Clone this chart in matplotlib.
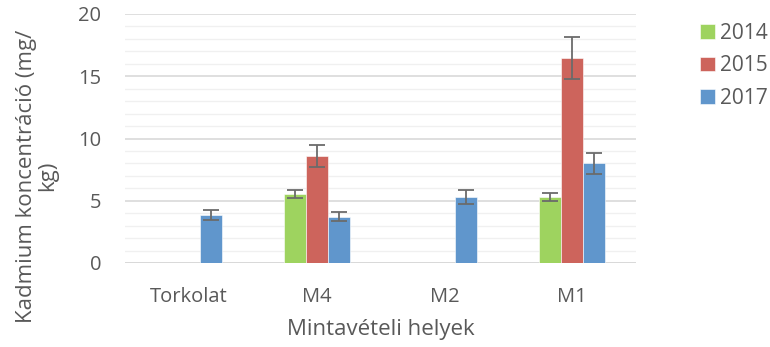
import numpy as np
import matplotlib
matplotlib.use("Agg")
import matplotlib.pyplot as plt
from matplotlib.ticker import MultipleLocator

plt.rcParams['font.family'] = ['Open Sans', 'DejaVu Sans']

sites = ["Torkolat", "M4", "M2", "M1"]
years = ["2014", "2015", "2017"]
vals_2014 = [np.nan, 5.55, np.nan, 5.33]
vals_2015 = [np.nan, 8.6, np.nan, 16.45]
vals_2017 = [3.87, 3.72, 5.27, 8.0]
err_2014 = [np.nan, 0.33, np.nan, 0.32]
err_2015 = [np.nan, 0.91, np.nan, 1.67]
err_2017 = [0.39, 0.37, 0.56, 0.83]
yticks = [0, 5, 10, 15, 20]

colors = ["#9ed35f", "#cd645c", "#6096cc"]
text_col = "#595959"

fig = plt.figure(figsize=(7.70, 3.47), dpi=100)
ax = fig.add_axes([125/770, 1-263/347, (636-125)/770, (263-14)/347])

x = np.arange(len(sites))
w = 0.172
series = [(vals_2014, err_2014), (vals_2015, err_2015), (vals_2017, err_2017)]
for i, ((v, e), c, lab) in enumerate(zip(series, colors, years)):
    pos = x + (i - 1) * w
    ax.bar(pos, v, width=w, color=c, edgecolor="white", linewidth=0.4,
           label=lab, zorder=3)
    ax.errorbar(pos, v, yerr=e, fmt="none", ecolor="#6b6b6b", elinewidth=1.3,
                capsize=6, capthick=1.3, zorder=4)

ax.set_xlim(-0.5, len(sites) - 0.5)
ax.set_ylim(0, 20)
ax.set_yticks(yticks)
ax.yaxis.set_minor_locator(MultipleLocator(1))
ax.set_xticks(x)
ax.set_xticklabels(sites)
ax.grid(axis="y", which="major", color="#d9d9d9", linewidth=1.2, zorder=0)
ax.grid(axis="y", which="minor", color="#f0f0f0", linewidth=1.0, zorder=0)
ax.set_axisbelow(True)
for s in ax.spines.values():
    s.set_visible(False)
ax.axhline(0, color="#d9d9d9", linewidth=1.3, zorder=2)
ax.tick_params(axis="both", which="both", length=0, labelsize=14.5,
               labelcolor=text_col)
ax.tick_params(axis="y", pad=17)
ax.tick_params(axis="x", pad=17)

ax.set_xlabel("Mintavételi helyek", fontsize=16, color=text_col, labelpad=9)
fig.text(37/770, 1-176/347, "Kadmium koncentráció (mg/\nkg)", rotation=90,
         ha="center", va="center", fontsize=16, color=text_col,
         multialignment="center", linespacing=1.05)

leg = ax.legend(loc="upper left", bbox_to_anchor=(700/770, 1-23/347),
                bbox_transform=fig.transFigure, frameon=False,
                fontsize=15, handlelength=0.7, handleheight=0.7,
                handletextpad=0.25, labelspacing=0.55, borderpad=0,
                borderaxespad=0)
for t in leg.get_texts():
    t.set_color(text_col)

fig.savefig("out.png", dpi=100)
